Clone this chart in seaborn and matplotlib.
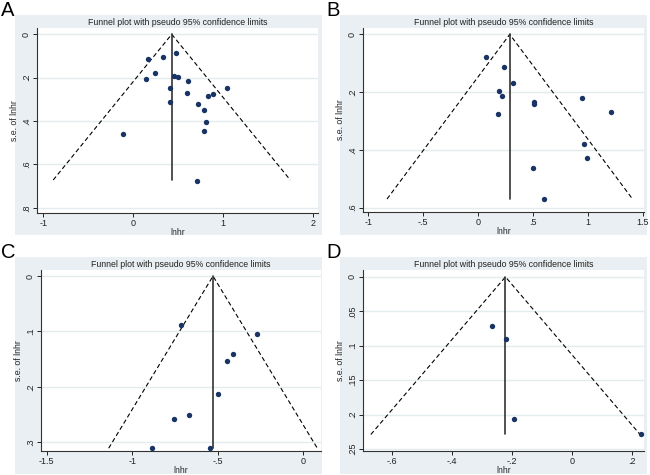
import matplotlib
matplotlib.use("Agg")
import matplotlib.pyplot as plt
from matplotlib.patches import Rectangle
import pandas as pd
import seaborn as sns

sns.set_style("white")
plt.rcParams["font.family"] = ["Liberation Sans", "DejaVu Sans"]

# panel A
a_lnhr = [0.159, 0.326, 0.470, 0.241, 0.137, 0.456, 0.500, 0.607, 0.407, 0.600,
          1.037, 0.885, 0.826, 0.411, 0.715, 0.781, 0.804, 0.781, -0.115, 0.704]
a_se = [0.112, 0.106, 0.088, 0.180, 0.208, 0.194, 0.197, 0.215, 0.246, 0.271,
        0.248, 0.274, 0.285, 0.311, 0.323, 0.351, 0.403, 0.448, 0.462, 0.677]
a_center, a_semax = 0.427, 0.672
a_xticks = [-1, 0, 1, 2]
a_xlabels = ["-1", "0", "1", "2"]
a_yticks = [0, 0.2, 0.4, 0.6, 0.8]
a_ylabels = ["0", ".2", ".4", ".6", ".8"]

# panel B
b_lnhr = [0.073, 0.236, 0.321, 0.188, 0.215, 0.182, 0.512, 0.512, 0.948, 1.212,
          0.964, 0.994, 0.503, 0.600]
b_se = [0.080, 0.112, 0.167, 0.196, 0.212, 0.275, 0.233, 0.240, 0.222, 0.270,
        0.378, 0.427, 0.463, 0.570]
b_center, b_semax = 0.288, 0.570
b_xticks = [-1, -0.5, 0, 0.5, 1, 1.5]
b_xlabels = ["-1", "-.5", "0", ".5", "1", "1.5"]
b_yticks = [0, 0.2, 0.4, 0.6]
b_ylabels = ["0", ".2", ".4", ".6"]

# panel C
c_lnhr = [-0.714, -0.273, -0.410, -0.447, -0.501, -0.670, -0.753, -0.884, -0.548]
c_se = [0.088, 0.104, 0.141, 0.153, 0.213, 0.251, 0.259, 0.311, 0.311]
c_center, c_semax = -0.528, 0.311
c_xticks = [-1.5, -1, -0.5, 0]
c_xlabels = ["-1.5", "-1", "-.5", "0"]
c_yticks = [0, 0.1, 0.2, 0.3]
c_ylabels = ["0", ".1", ".2", ".3"]

# panel D
d_lnhr = [-0.267, -0.219, -0.191, 0.231]
d_se = [0.071, 0.090, 0.206, 0.229]
d_center, d_semax = -0.221, 0.229
d_xticks = [-0.6, -0.4, -0.2, 0, 0.2]
d_xlabels = ["-.6", "-.4", "-.2", "0", ".2"]
d_yticks = [0, 0.05, 0.1, 0.15, 0.2, 0.25]
d_ylabels = ["0", ".05", ".1", ".15", ".2", ".25"]

W, H = 650, 475
bg = "#e9eff2"
grid = "#e4ecef"
dot = "#1a3365"

fig = plt.figure(figsize=(6.5, 4.75), dpi=100)
fig.patch.set_facecolor("white")


def box(x0, y0, x1, y1):
    return [x0 / W, 1 - y1 / H, (x1 - x0) / W, (y1 - y0) / H]


panels = [
    ("A", a_lnhr, a_se, a_center, a_semax, a_xticks, a_xlabels, a_yticks, a_ylabels,
     (15, 15, 322, 235), (37, 28, 318, 213), (-1.07, 2.052), (-0.029, 0.824), 22.7),
    ("B", b_lnhr, b_se, b_center, b_semax, b_xticks, b_xlabels, b_yticks, b_ylabels,
     (340, 15, 647, 235), (363, 28, 644, 212), (-1.048, 1.51), (-0.022, 0.615), 22.7),
    ("C", c_lnhr, c_se, c_center, c_semax, c_xticks, c_xlabels, c_yticks, c_ylabels,
     (15, 257, 322, 474), (41, 270, 321, 451), (-1.533, 0.103), (-0.011, 0.316), 264.7),
    ("D", d_lnhr, d_se, d_center, d_semax, d_xticks, d_xlabels, d_yticks, d_ylabels,
     (340, 257, 647, 474), (363, 270, 644, 451), (-0.696, 0.241), (-0.010, 0.253), 264.7),
]

for (letter, xs, ys, center, semax, xt, xl, yt, yl,
     outer, inner, xlim, ylim, title_y) in panels:
    x0, y0, x1, y1 = outer
    fig.patches.append(Rectangle((x0 / W, 1 - y1 / H), (x1 - x0) / W, (y1 - y0) / H,
                                 transform=fig.transFigure, facecolor=bg,
                                 edgecolor="none", zorder=-10))
    fig.text((x0 - 14) / W, 1 - (y0 - 14) / H, letter, fontsize=14.5,
             ha="left", va="top", color="black")

    ax = fig.add_axes(box(*inner))
    ax.set_zorder(1)
    ax.set_facecolor("white")
    df = pd.DataFrame({"lnhr": xs, "se": ys})

    for t in yt:
        ax.axhline(t, color=grid, lw=1.0, zorder=0)

    # pseudo 95% limits
    funnel = pd.DataFrame({"x": [center - 1.96 * semax, center, center + 1.96 * semax],
                           "y": [semax, 0, semax]})
    ax.plot(funnel["x"], funnel["y"], color="black", lw=0.8, ls=(0, (4, 2.5)), zorder=2)
    ax.plot([center, center], [0, semax], color="#333333", lw=1.2, zorder=2)

    sns.scatterplot(data=df, x="lnhr", y="se", ax=ax, color=dot, s=15,
                    edgecolor=dot, linewidth=0, zorder=3)

    ax.set_xlim(*xlim)
    ax.set_ylim(ylim[1], ylim[0])
    ax.set_xticks(xt)
    ax.set_xticklabels(xl)
    ax.set_yticks(yt)
    ax.set_yticklabels(yl, rotation=90, va="center")
    ax.tick_params(axis="both", labelsize=6.5, length=3, width=0.7, pad=1.5,
                   direction="out", colors="#222222", left=True, bottom=True)
    for s in ["top", "right"]:
        ax.spines[s].set_visible(False)
    for s in ["left", "bottom"]:
        ax.spines[s].set_color("#333333")
        ax.spines[s].set_linewidth(0.8)
    ax.set_xlabel("lnhr", fontsize=6.3, labelpad=0)
    ax.set_ylabel("s.e. of lnhr", fontsize=6.3, labelpad=2)

    ix0, iy0, ix1, iy1 = inner
    fig.text((ix0 + ix1) / 2 / W, 1 - title_y / H,
             "Funnel plot with pseudo 95% confidence limits",
             fontsize=6.3, ha="center", va="center", color="#222222")

fig.savefig("out.png", dpi=100, facecolor="white")
